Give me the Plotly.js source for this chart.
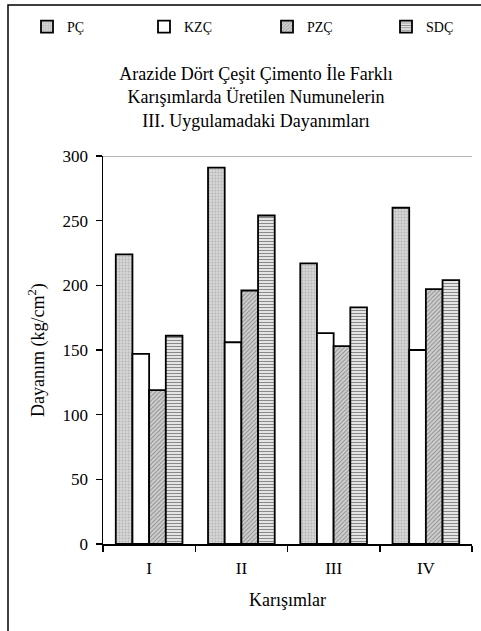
<!DOCTYPE html>
<html>
<head>
<meta charset="utf-8">
<script src="https://cdn.plot.ly/plotly-3.0.1.min.js"></script>
<style>
html,body{margin:0;padding:0;background:#fff;}
#chart{width:481px;height:631px;}
</style>
</head>
<body>
<div id="chart"></div>
<script>
const categories = ["I", "II", "III", "IV"];
const seriesNames = ["PÇ", "KZÇ", "PZÇ", "SDÇ"];
const pc  = [224, 291, 217, 260];
const kzc = [147, 156, 163, 150];
const pzc = [119, 196, 153, 197];
const sdc = [161, 254, 183, 204];
const yTicks = [0, 50, 100, 150, 200, 250, 300];

const font = "'Liberation Serif', 'Times New Roman', serif";
const styles = [
  {bgcolor: "#d6d6d6", fgcolor: "#b4b4b4", shape: ".", size: 3, solidity: 0.3, fillmode: "replace"},
  {bgcolor: "#ffffff", fgcolor: "#ffffff", shape: "", size: 4, solidity: 0.3},
  {bgcolor: "#cfcfcf", fgcolor: "#8a8a8a", shape: "/", size: 3, solidity: 0.3, fillmode: "replace"},
  {bgcolor: "#e4e4e4", fgcolor: "#8a8a8a", shape: "-", size: 3, solidity: 0.35, fillmode: "replace"}
];
const values = [pc, kzc, pzc, sdc];
const legendIds = ["legend", "legend2", "legend3", "legend4"];
const legendX = [27, 144, 267, 386];

const traces = values.map((v, i) => ({
  type: "bar",
  name: seriesNames[i],
  x: categories,
  y: v,
  legend: legendIds[i],
  showlegend: true,
  marker: {
    color: styles[i].bgcolor,
    pattern: styles[i],
    line: {color: "#000", width: 1.8}
  },
  hoverinfo: "skip"
}));

const layout = {
  width: 481, height: 631,
  margin: {l: 103, r: 9, t: 156, b: 87},
  paper_bgcolor: "#fff",
  plot_bgcolor: "#fff",
  showlegend: true,
  barmode: "group",
  bargap: 0.277,
  bargroupgap: 0,
  font: {family: font, color: "#000", size: 17},
  title: {
    text: "Arazide Dört Çeşit Çimento İle Farklı<br>Karışımlarda Üretilen Numunelerin<br>III. Uygulamadaki Dayanımları",
    font: {family: font, size: 18, color: "#000"},
    x: (256 - 103) / 369, xref: "paper", xanchor: "center",
    y: 1 - 80 / 631, yref: "container", yanchor: "middle"
  },
  xaxis: {
    type: "category",
    showline: true, linecolor: "#000", linewidth: 1.5,
    ticks: "outside", tickson: "boundaries", ticklen: 6, tickcolor: "#000", tickwidth: 1.5,
    showgrid: false, zeroline: false,
    tickfont: {family: font, size: 17, color: "#000"},
    ticklabelstandoff: 8,
    title: {text: "Karışımlar", font: {family: font, size: 18, color: "#000"}, standoff: 16},
    fixedrange: true
  },
  yaxis: {
    range: [0, 300],
    tickvals: yTicks,
    ticktext: yTicks.map(String),
    showline: true, linecolor: "#000", linewidth: 1.5,
    ticks: "outside", ticklen: 6, tickcolor: "#000", tickwidth: 1.5,
    showgrid: false, zeroline: false,
    tickfont: {family: font, size: 17, color: "#000"},
    ticklabelstandoff: 4,
    title: {text: "Dayanım (kg/cm<sup>2</sup>)", font: {family: font, size: 18, color: "#000"}, standoff: 13},
    fixedrange: true
  },
  shapes: [
    {type: "line", xref: "paper", yref: "y", x0: 0, x1: 1, y0: 300, y1: 300,
     line: {color: "#9a9a9a", width: 1.5}},
    {type: "rect", xref: "paper", yref: "paper",
     x0: (8 - 103) / 369, x1: 1.2, y0: -0.4, y1: (544 - 5) / 388,
     line: {color: "#000", width: 1.5}, fillcolor: "rgba(0,0,0,0)", layer: "above"}
  ]
};

legendIds.forEach((id, i) => {
  layout[id] = {
    visible: true,
    orientation: "h",
    x: legendX[i] / 481, xref: "container", xanchor: "left",
    y: 1 - 27 / 631, yref: "container", yanchor: "middle",
    bgcolor: "rgba(0,0,0,0)",
    font: {family: font, size: 14, color: "#000"}
  };
});

Plotly.newPlot("chart", traces, layout, {displayModeBar: false, staticPlot: true});
</script>
</body>
</html>
